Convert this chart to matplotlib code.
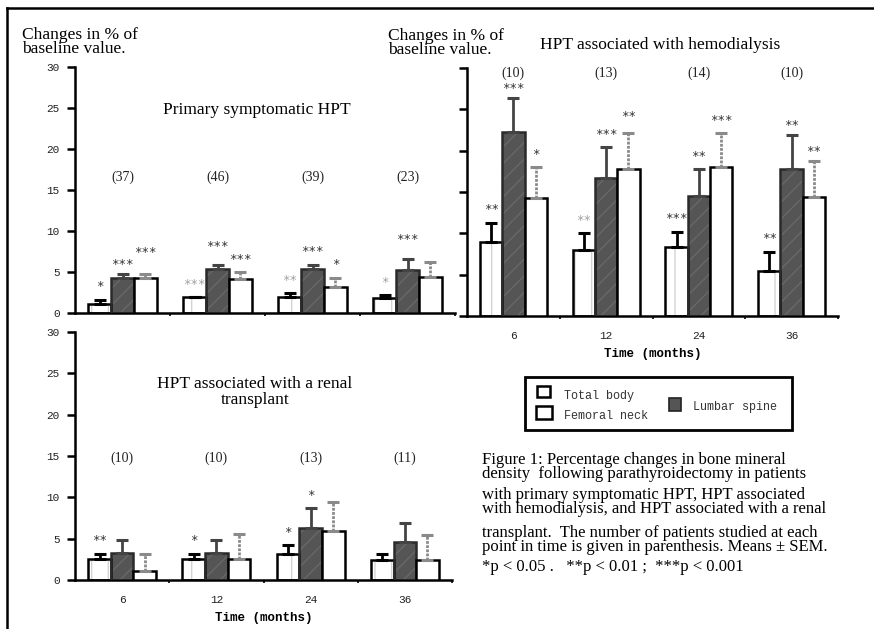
import matplotlib
matplotlib.use('Agg')
import matplotlib.pyplot as plt
import numpy as np
from matplotlib.patches import Rectangle
from matplotlib.lines import Line2D

months = ['6', '12', '24', '36']

# primary symptomatic HPT
prim_total = [1.1, 1.9, 1.9, 1.8]
prim_total_err = [0.5, 0.0, 0.5, 0.35]
prim_lumbar = [4.3, 5.4, 5.4, 5.3]
prim_lumbar_err = [0.45, 0.5, 0.5, 1.3]
prim_femoral = [4.3, 4.2, 3.2, 4.4]
prim_femoral_err = [0.45, 0.8, 1.1, 1.85]
prim_n = ['(37)', '(46)', '(39)', '(23)']
prim_sig = [['*', '***', '***'], ['***', '***', '***'], ['**', '***', '*'], ['*', '***', '']]

# HPT with hemodialysis
hemo_total = [9.0, 8.0, 8.4, 5.5]
hemo_total_err = [2.3, 2.0, 1.8, 2.3]
hemo_lumbar = [22.2, 16.75, 14.5, 17.8]
hemo_lumbar_err = [4.2, 3.65, 3.25, 4.1]
hemo_femoral = [14.3, 17.75, 18.0, 14.4]
hemo_femoral_err = [3.7, 4.35, 4.1, 4.4]
hemo_n = ['(10)', '(13)', '(14)', '(10)']
hemo_sig = [['**', '***', '*'], ['**', '***', '**'], ['***', '**', '***'], ['**', '**', '**']]

# HPT with renal transplant
renal_total = [2.5, 2.5, 3.2, 2.4]
renal_total_err = [0.7, 0.7, 1.0, 0.8]
renal_lumbar = [3.3, 3.3, 6.25, 4.6]
renal_lumbar_err = [1.5, 1.5, 2.4, 2.25]
renal_femoral = [1.1, 2.5, 5.96, 2.4]
renal_femoral_err = [2.1, 3.06, 3.5, 3.1]
renal_n = ['(10)', '(10)', '(13)', '(11)']
renal_sig = [['**', '', ''], ['*', '', ''], ['*', '*', ''], ['', '', '']]

SERIF = 'Liberation Serif'
MONO = 'Liberation Mono'
W, H = 874, 629

fig = plt.figure(figsize=(W / 100, H / 100), dpi=100)


def fx(px):
    return px / W


def fy(py):
    return 1 - py / H


def make_ax(left, right, bottom, top):
    return fig.add_axes([fx(left), fy(bottom), (right - left) / W, (bottom - top) / H])


def panel(ax, total, total_err, lumbar, lumbar_err, femoral, femoral_err,
          n, sig, n_y, faint=(), nudge=None, xlabels=True, ylabels=True):
    nudge = nudge or {}
    x = np.arange(len(months)) + 0.5
    w = 0.24
    pos = [x - w, x, x + w]
    # total body: white with faint vertical dots
    ax.bar(pos[0], total, w, color='white', edgecolor='#d4d4d4', hatch='|', linewidth=0, zorder=2)
    ax.bar(pos[0], total, w, fill=False, edgecolor='black', linewidth=1.8, zorder=3)
    # lumbar spine: dark grey, hatched
    ax.bar(pos[1], lumbar, w, color='#555555', edgecolor='#686868', hatch='//', linewidth=0, zorder=2)
    ax.bar(pos[1], lumbar, w, fill=False, edgecolor='#2a2a2a', linewidth=1.8, zorder=3)
    # femoral neck: white
    ax.bar(pos[2], femoral, w, color='white', edgecolor='black', linewidth=1.8, zorder=3)

    vals = [total, lumbar, femoral]
    errs = [total_err, lumbar_err, femoral_err]
    ecol = ['black', '#444444', '#8a8a8a']
    for k in range(3):
        e = ax.errorbar(pos[k], vals[k], yerr=[np.zeros(len(months)), errs[k]], fmt='none',
                        ecolor=ecol[k], elinewidth=2, capsize=4.5, capthick=2.2, zorder=4)
        if k == 2:
            e[2][0].set_linestyle((0, (1, 0.5)))
        for i in range(len(months)):
            if sig[i][k]:
                col = '#a0a0a0' if (i, k) in faint else '#333333'
                ax.annotate(sig[i][k], (pos[k][i], vals[k][i] + errs[k][i]),
                            xytext=(0, 13 + nudge.get((i, k), 0)), textcoords='offset pixels',
                            ha='center', va='center', fontsize=9, family='DejaVu Sans Mono',
                            color=col, zorder=5)
    for i in range(len(months)):
        ax.text(x[i], n_y, n[i], ha='center', va='center', fontsize=10, family=SERIF, color='#222222')

    ax.set_xlim(0, len(months))
    ax.set_ylim(0, 30)
    for s in ['top', 'right']:
        ax.spines[s].set_visible(False)
    for s in ['left', 'bottom']:
        ax.spines[s].set_linewidth(1.8)
    ax.set_yticks(range(0, 31, 5))
    ax.tick_params(axis='y', length=6, width=1.8, pad=5, labelsize=8, labelcolor='#222222')
    for t in ax.get_yticklabels():
        t.set_family(MONO)
    if not ylabels:
        ax.set_yticklabels([])
    ax.set_xticks(x)
    ax.set_xticks([1, 2, 3, 4], minor=True)
    ax.tick_params(axis='x', which='major', length=0, pad=11, labelsize=8, labelcolor='#222222')
    ax.tick_params(axis='x', which='minor', length=2.5, width=1.2)
    if xlabels:
        ax.set_xticklabels(months, family=MONO)
        ax.set_xlabel('Time (months)', family=MONO, fontsize=9, fontweight='bold', labelpad=5)
    else:
        ax.set_xticklabels([])


ax1 = make_ax(75, 455, 313, 67)
panel(ax1, prim_total, prim_total_err, prim_lumbar, prim_lumbar_err, prim_femoral, prim_femoral_err,
      prim_n, prim_sig, 16.5, faint={(1, 0), (2, 0), (3, 0)},
      nudge={(0, 1): -3, (0, 2): 9, (1, 1): 5, (3, 1): 6}, xlabels=False)

ax2 = make_ax(467, 838, 316, 68)
panel(ax2, hemo_total, hemo_total_err, hemo_lumbar, hemo_lumbar_err, hemo_femoral, hemo_femoral_err,
      hemo_n, hemo_sig, 29.4, faint={(1, 0)},
      nudge={(0, 1): -4, (3, 1): -4, (3, 2): -4, (1, 2): 4}, ylabels=False)

ax3 = make_ax(75, 452, 580, 332)
panel(ax3, renal_total, renal_total_err, renal_lumbar, renal_lumbar_err, renal_femoral, renal_femoral_err,
      renal_n, renal_sig, 14.75)

# titles and axis captions
fig.text(fx(257), fy(110), 'Primary symptomatic HPT', ha='center', va='center', family=SERIF, fontsize=12.5)
fig.text(fx(660), fy(45), 'HPT associated with hemodialysis', ha='center', va='center', family=SERIF, fontsize=12.5)
fig.text(fx(255), fy(392), 'HPT associated with a renal\ntransplant', ha='center', va='center',
         family=SERIF, fontsize=12.5, linespacing=1.0)
fig.text(fx(22), fy(42), 'Changes in % of\nbaseline value.', ha='left', va='center',
         family=SERIF, fontsize=12.5, linespacing=0.8)
fig.text(fx(388), fy(43), 'Changes in % of\nbaseline value.', ha='left', va='center',
         family=SERIF, fontsize=12.5, linespacing=0.88)


# legend
def frect(x0, y0, x1, y1, **kw):
    fig.patches.append(Rectangle((fx(x0), fy(y1)), (x1 - x0) / W, (y1 - y0) / H,
                                 transform=fig.transFigure, **kw))


frect(525, 377, 792, 430, facecolor='white', edgecolor='black', linewidth=2)
frect(537, 386, 550, 397, facecolor='white', edgecolor='black', linewidth=1.8)
frect(536, 406, 552, 419, facecolor='white', edgecolor='black', linewidth=1.8)
frect(669, 398, 681, 411, facecolor='#555555', edgecolor='#222222', linewidth=1.2)
fig.text(fx(564), fy(396), 'Total body', family=MONO, fontsize=8.5, va='center', color='#333333')
fig.text(fx(564), fy(416), 'Femoral neck', family=MONO, fontsize=8.5, va='center', color='#333333')
fig.text(fx(693), fy(407), 'Lumbar spine', family=MONO, fontsize=8.5, va='center', color='#333333')

# figure caption (tight pairs of lines as in the original)
caption = [
    ('Figure 1: Percentage changes in bone mineral\n'
     'density  following parathyroidectomy in patients', 467),
    ('with primary symptomatic HPT, HPT associated\n'
     'with hemodialysis, and HPT associated with a renal', 502),
    ('transplant.  The number of patients studied at each\n'
     'point in time is given in parenthesis. Means \u00b1 SEM.', 540),
    ('*p < 0.05 .   **p < 0.01 ;  ***p < 0.001', 567),
]
for line, y in caption:
    fig.text(fx(482), fy(y), line, ha='left', va='center', family=SERIF, fontsize=12, linespacing=0.82)

# page frame
fig.lines.append(Line2D([fx(7), fx(874)], [fy(8), fy(8)], transform=fig.transFigure, color='black', linewidth=1.8))
fig.lines.append(Line2D([fx(7), fx(7)], [fy(8), fy(629)], transform=fig.transFigure, color='black', linewidth=1.8))

fig.savefig('out.png', dpi=100)
